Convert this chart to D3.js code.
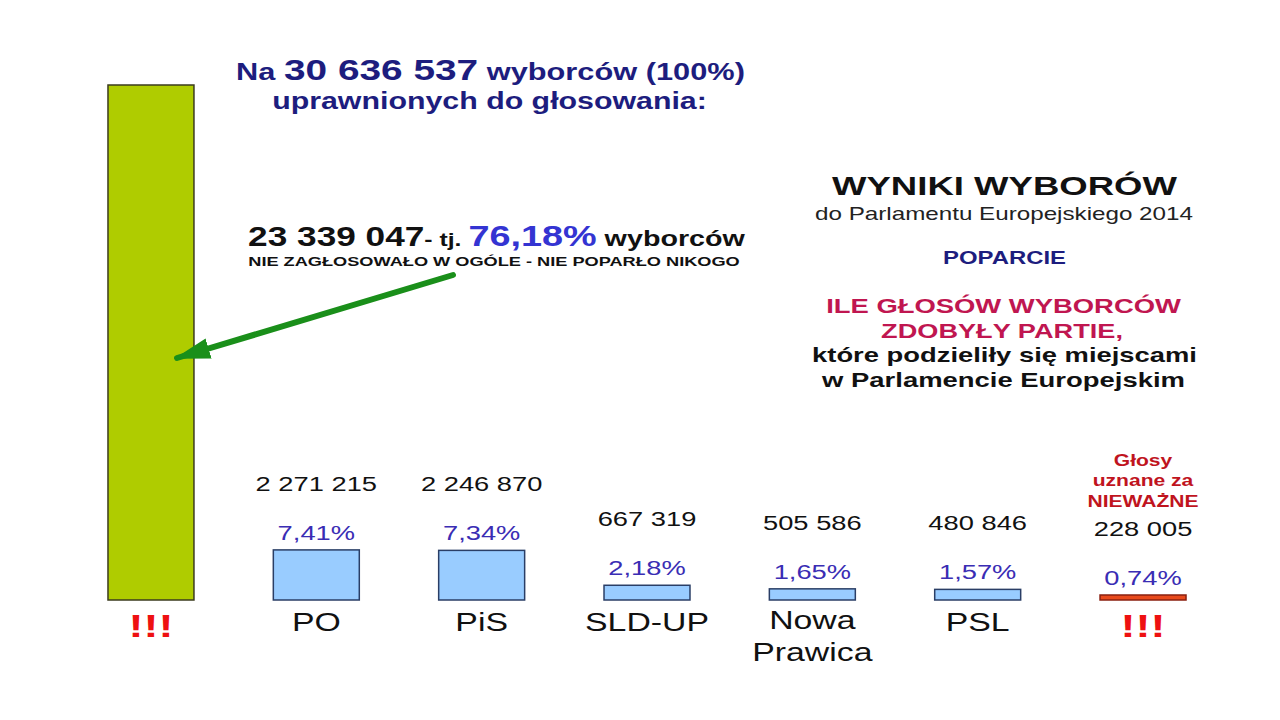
<!DOCTYPE html>
<html><head><meta charset="utf-8">
<script src="https://cdn.jsdelivr.net/npm/d3@7"></script>
<style>body{margin:0;background:#fff}svg{display:block}text{font-family:"Liberation Sans",Arial,sans-serif}</style>
</head><body>
<script>
// ---- data ----
const categories = ["Nie głosowało", "PO", "PiS", "SLD-UP", "Nowa Prawica", "PSL", "Nieważne"];
const axisLabels = [["!!!"], ["PO"], ["PiS"], ["SLD-UP"], ["Nowa", "Prawica"], ["PSL"], ["!!!"]];
const percents = [76.18, 7.41, 7.34, 2.18, 1.65, 1.57, 0.74];
const votes = [23339047, 2271215, 2246870, 667319, 505586, 480846, 228005];
const barKind = ["absent", "party", "party", "party", "party", "party", "invalid"];
const totalVoters = 30636537;

const W = 1280, H = 720;
const svg = d3.select("body").append("svg").attr("width", W).attr("height", H);
svg.append("rect").attr("width", W).attr("height", H).attr("fill", "#fff");

const x = d3.scaleBand().domain(categories).range([68.3, 1225.7]).paddingInner(0.48).paddingOuter(0.24);
const y = d3.scaleLinear().domain([0, percents[0]]).range([600, 85]);

const fmtNum = v => d3.format(",")(v).replace(/,/g, " ");
const fmtPct = v => d3.format(".2f")(v).replace(".", ",") + "%";
const STRETCH = 1.3;

const fill = {absent: "#afcc00", party: "#99ccff", invalid: "#e84a1c"};
const stroke = {absent: "#3b3b1e", party: "#2a3e66", invalid: "#8a2010"};

const data = categories.map((c, i) => ({c, p: percents[i], v: votes[i], k: barKind[i], lab: axisLabels[i]}));

// bars
svg.selectAll("rect.bar").data(data).join("rect").attr("class", "bar")
  .attr("x", d => x(d.c)).attr("width", x.bandwidth())
  .attr("y", d => y(d.p)).attr("height", d => y(0) - y(d.p))
  .attr("fill", d => fill[d.k]).attr("stroke", d => stroke[d.k]).attr("stroke-width", 1.5);

const cx = d => x(d.c) + x.bandwidth() / 2;

// percent & vote labels (not for the big bar)
const small = data.filter(d => d.k !== "absent");
svg.selectAll("text.pct").data(small).join("text").attr("class", "pct")
  .attr("transform", d => `translate(${cx(d)},${y(d.p) - 10}) scale(${STRETCH},1)`)
  .attr("text-anchor", "middle").attr("font-size", 21).attr("fill", "#3a2db4")
  .text(d => fmtPct(d.p));
svg.selectAll("text.num").data(small).join("text").attr("class", "num")
  .attr("transform", d => `translate(${cx(d)},${y(d.p) - 59}) scale(${STRETCH},1)`)
  .attr("text-anchor", "middle").attr("font-size", 21).attr("fill", "#111")
  .text(d => fmtNum(d.v));

// category labels
data.forEach(d => {
  const bang = d.lab[0] === "!!!";
  d.lab.forEach((t, j) => {
    svg.append("text")
      .attr("transform", `translate(${cx(d)},${bang ? 637 : (d.lab.length > 1 ? 629 + j * 32 : 631)}) scale(${bang ? 1.45 : STRETCH},1)`)
      .attr("text-anchor", "middle")
      .attr("font-size", bang ? 31 : 26).attr("font-weight", bang ? "bold" : "normal")
      .attr("fill", bang ? "#ee1111" : "#111").text(t);
  });
});

// invalid votes note
const inv = data[6];
["Głosy", "uznane za", "NIEWAŻNE"].forEach((t, j) => {
  svg.append("text").attr("transform", `translate(${cx(inv)},${y(inv.p) - 129 + j * 20.5}) scale(1.24,1)`)
    .attr("text-anchor", "middle").attr("font-size", 17).attr("font-weight", "bold")
    .attr("fill", "#c0141e").text(t);
});

// helper: text fitted to a target width, centred
function fitText(parts, cxp, base, width) {
  const t = svg.append("text").attr("text-anchor", "middle").attr("font-weight", "bold");
  parts.forEach(p => t.append("tspan").attr("font-size", p.s).attr("fill", p.c)
    .attr("font-weight", p.w || "bold").text(p.t));
  const w = t.node().getComputedTextLength();
  t.attr("transform", `translate(${cxp},${base}) scale(${width / w},1)`);
  return t;
}

const navy = "#1d1d7e";
fitText([{t: "Na ", s: 23, c: navy}, {t: "30 636 537", s: 29, c: navy}, {t: " wyborców (100%)", s: 23, c: navy}], 490.5, 80, 509);
fitText([{t: "uprawnionych do głosowania:", s: 23, c: navy}], 489.5, 109, 435);

fitText([{t: fmtNum(votes[0]), s: 27, c: "#111"}, {t: "- tj. ", s: 19, c: "#111"},
  {t: fmtPct(percents[0]), s: 29, c: "#3434d2"}, {t: " wyborców", s: 22, c: "#111"}], 496.5, 246, 497);
fitText([{t: "NIE ZAGŁOSOWAŁO W OGÓLE - NIE POPARŁO NIKOGO", s: 13, c: "#111"}], 494, 266, 492);

fitText([{t: "WYNIKI WYBORÓW", s: 25, c: "#111"}], 1004.5, 195, 345);
fitText([{t: "do Parlamentu Europejskiego 2014", s: 18, c: "#222", w: "normal"}], 1004, 220, 378);
fitText([{t: "POPARCIE", s: 18, c: navy}], 1004.5, 263.5, 123);
const crim = "#c01650";
fitText([{t: "ILE GŁOSÓW WYBORCÓW", s: 21, c: crim}], 1003.5, 312.5, 355);
fitText([{t: "ZDOBYŁY PARTIE,", s: 21, c: crim}], 1002, 337.5, 242);
fitText([{t: "które podzieliły się miejscami", s: 20, c: "#111"}], 1004.5, 362, 385);
fitText([{t: "w Parlamencie Europejskim", s: 20, c: "#111"}], 1003.5, 387, 363);

// arrow
svg.append("defs").append("marker").attr("id", "ah").attr("viewBox", "0 0 12 7")
  .attr("refX", 11).attr("refY", 3.5).attr("markerWidth", 6).attr("markerHeight", 3.5)
  .attr("orient", "auto").attr("markerUnits", "strokeWidth")
  .append("path").attr("d", "M0,0L12,3.5L0,7Z").attr("fill", "#1a8f1a");
svg.append("line").attr("x1", 453).attr("y1", 275).attr("x2", 177).attr("y2", 358)
  .attr("stroke", "#1a8f1a").attr("stroke-width", 6).attr("stroke-linecap", "round")
  .attr("marker-end", "url(#ah)");
</script>
</body></html>
